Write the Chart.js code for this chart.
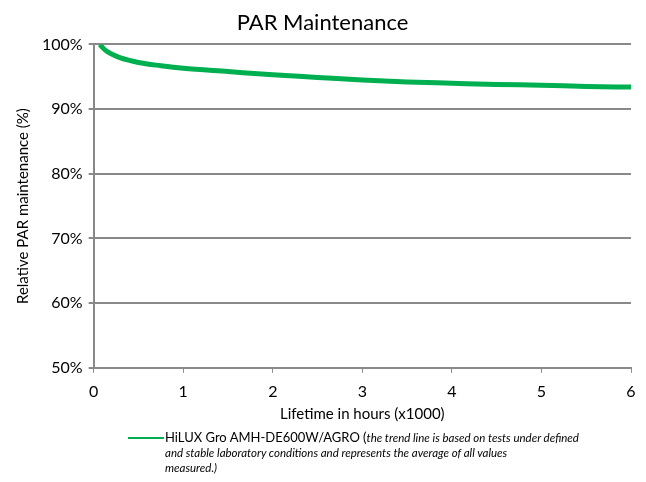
<!DOCTYPE html>
<html>
<head>
<meta charset="utf-8">
<script src="https://cdn.jsdelivr.net/npm/chart.js@4/dist/chart.umd.min.js"></script>
<style>
  html, body { margin: 0; padding: 0; background: #fff; }
  #wrap { position: relative; width: 646px; height: 482px; }
  #legend { position: absolute; left: 128px; top: 430px; width: 510px; font-family: Lato, "Open Sans", sans-serif; font-size: 12px; line-height: 15px; color: #000; }
  #legend .sw { position: absolute; left: 0; top: 7px; width: 36px; height: 2px; background: #00b050; }
  #legend .tx { margin-left: 37px; }
  #legend .first { font-size: 13px; }
  #legend i { font-size: 11.5px; }
  #legend .rest { margin-left: 37px; font-style: italic; font-size: 11.5px; }
</style>
</head>
<body>
<div id="wrap">
  <canvas id="c" width="646" height="482"></canvas>
  <div id="legend"></div>
</div>
<script>
const chartTitle = "PAR Maintenance";
const seriesName = "HiLUX Gro AMH-DE600W/AGRO";
const xTitle = "Lifetime in hours (x1000)";
const yTitle = "Relative PAR maintenance (%)";
const hours = [0.07, 0.1, 0.15, 0.2, 0.3, 0.5, 0.75, 1, 1.5, 2, 2.5, 3, 3.5, 4, 4.5, 5, 5.5, 6];
const parPct = [100, 99.5, 98.9, 98.5, 97.9, 97.2, 96.7, 96.3, 95.8, 95.3, 94.9, 94.5, 94.2, 94.0, 93.8, 93.7, 93.5, 93.4];
const yTicks = [50, 60, 70, 80, 90, 100];
const xTicks = [0, 1, 2, 3, 4, 5, 6];

const lineColor = '#00b050';
const gridColor = '#898989';
const fontFam = 'Lato, "Open Sans", sans-serif';

document.getElementById('legend').innerHTML =
  '<div class="sw"></div><div class="tx"><span class="first">' + seriesName + ' (</span><i>the trend line is based on tests under defined</i></div>' +
  '<div class="rest">and stable laboratory conditions and represents the average of all values</div>' +
  '<div class="rest">measured.)</div>';

const pts = hours.map((h, i) => ({ x: h, y: parPct[i] }));

new Chart(document.getElementById('c'), {
  type: 'line',
  data: {
    datasets: [{
      label: seriesName,
      data: pts,
      borderColor: lineColor,
      borderWidth: 5,
      pointRadius: 0,
      tension: 0.4,
      cubicInterpolationMode: 'monotone',
      fill: false
    }]
  },
  options: {
    responsive: false,
    animation: false,
    layout: { padding: { left: 14, right: 15, top: 3, bottom: 59 } },
    plugins: {
      legend: { display: false },
      tooltip: { enabled: false },
      title: {
        display: true,
        text: chartTitle,
        color: '#000',
        font: { family: fontFam, size: 22, weight: 'normal' },
        padding: { top: 7, bottom: 8 }
      }
    },
    scales: {
      x: {
        type: 'linear',
        min: 0, max: 6,
        afterBuildTicks: s => { s.ticks = xTicks.map(v => ({ value: v })); },
        ticks: { color: '#000', font: { family: fontFam, size: 16 }, padding: 9 },
        grid: { drawOnChartArea: false, drawTicks: true, tickLength: 5, color: gridColor, lineWidth: 1 },
        border: { color: gridColor, width: 2 },
        title: { display: true, text: xTitle, color: '#000', font: { family: fontFam, size: 15 }, padding: { top: -5, bottom: 0 } }
      },
      y: {
        min: 50, max: 100,
        afterBuildTicks: s => { s.ticks = yTicks.map(v => ({ value: v })); },
        ticks: { color: '#000', font: { family: fontFam, size: 16 }, padding: 6, callback: v => v + '%' },
        grid: { drawOnChartArea: true, drawTicks: true, tickLength: 5, color: gridColor, lineWidth: 2 },
        border: { color: gridColor, width: 2 },
        title: { display: true, text: yTitle, color: '#000', font: { family: fontFam, size: 15 }, padding: { top: 0, bottom: 4 } }
      }
    }
  }
});
</script>
</body>
</html>
